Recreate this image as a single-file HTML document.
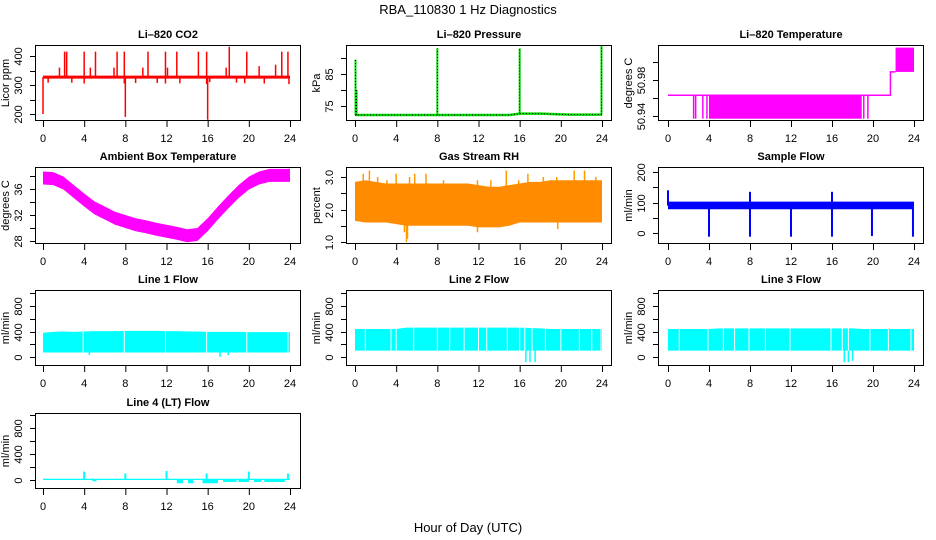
<!DOCTYPE html>
<html><head><meta charset="utf-8"><style>
body{margin:0;background:#fff}
svg{display:block;font-family:"Liberation Sans",Helvetica,sans-serif}
</style></head><body>
<svg id="c" width="936" height="540" viewBox="0 0 936 540">
<defs>
<pattern id="rhpat" width="2" height="2" patternUnits="userSpaceOnUse">
<rect width="2" height="2" fill="#ffff00"/><rect width="1" height="1" fill="#ff0000"/><rect x="1" y="1" width="1" height="1" fill="#ff0000"/>
</pattern>
</defs>
<text x="468" y="14" text-anchor="middle" font-size="13">RBA_110830  1 Hz Diagnostics</text>
<text x="468" y="532" text-anchor="middle" font-size="13">Hour of Day (UTC)</text>
</svg>
<script>
// ---------------- data ----------------
const hourTicks = [0,4,8,12,16,20,24];
const hours = [0,1,2,3,4,5,6,7,8,9,10,11,12,13,14,15,16,17,18,19,20,21,22,23,24];

const co2Base = 327;
const co2SpikeTimes = [1.6,2.1,2.3,4.0,4.6,5.1,6.9,7.2,7.9,9.7,10.2,11.9,12.1,13.0,15.1,15.9,17.8,18.1,19.8,21.0,22.6,23.2,23.8,0.0,8.0,16.0,0.5,2.8,4.0,7.9,9.0,11.1,11.9,13.3,15.9,16.2,18.8,19.6,21.5,23.9];
const co2SpikeVals  = [360,415,415,415,360,415,360,415,415,360,415,415,360,415,415,415,360,432,415,365,370,415,415,200,190,180,308,308,305,305,307,307,305,306,303,310,308,306,305,303];

const presBase = [72.2,72.2,72.2,72.2,72.2,72.2,72.2,72.2,72.2,72.2,72.2,72.2,72.2,72.2,72.2,72.2,72.6,72.6,72.6,72.5,72.4,72.3,72.3,72.3,72.3];
const presSpikeTimes = [0.05,0.15,8.0,16.0,23.95];
const presSpikeVals  = [89.5,80,93,93,94];

const tempStepTimes = [0,21.7,21.7,22.2];
const tempStepVals  = [50.963,50.963,50.989,50.989];
const tempBlockStart = [4.0,22.2];
const tempBlockEnd   = [18.9,24.0];
const tempBlockLo    = [50.937,50.989];
const tempBlockHi    = [50.963,51.016];
const tempDropTimes  = [2.5,2.7,3.4,3.8,19.1,19.5];
const tempDropVal    = 50.937;

const ambMid = [37.7,37.6,36.9,35.6,34.3,33.1,32.3,31.5,31.0,30.5,30.2,29.8,29.5,29.2,28.8,29.0,30.5,32.3,34.0,35.6,36.9,37.7,38.1,38.1,38.1];
const ambHalfWidth = 1.0;

const rhLo = [1.65,1.6,1.6,1.6,1.55,1.5,1.5,1.5,1.5,1.5,1.5,1.5,1.45,1.45,1.45,1.5,1.6,1.6,1.6,1.6,1.6,1.6,1.6,1.6,1.6];
const rhHi = [2.85,2.9,2.85,2.8,2.8,2.8,2.8,2.8,2.8,2.8,2.8,2.8,2.75,2.7,2.7,2.75,2.8,2.85,2.85,2.9,2.9,2.9,2.9,2.9,2.9];
const rhSpikeTimes = [0.8,1.4,2.2,3.1,4.0,5.3,5.8,6.9,8.6,11.9,13.2,14.7,15.9,16.8,18.3,19.6,21.3,22.3,23.4,4.8,5.0,5.1,11.9,19.7];
const rhSpikeVals  = [3.1,3.2,3.0,2.9,3.1,3.0,3.1,3.1,2.9,2.9,2.9,3.2,2.9,3.1,3.0,3.0,3.2,3.2,3.0,1.3,1.0,1.1,1.3,1.4];

const sfLo = 78, sfHi = 103;
const sfSpikeTimes = [0.0,8.0,16.0,4.0,8.0,12.0,16.0,19.9,23.9];
const sfSpikeVals  = [140,135,135,-12,-12,-12,-12,-10,-12];

const l1Lo = 70, l1Hi = [380,395,400,395,400,405,405,405,410,410,410,410,405,405,400,400,395,395,395,395,390,390,390,390,390];
const l1Gaps = [3.9,7.9,11.9,15.9,19.8,23.8];
const l1DipTimes = [4.5,17.2,18.0];
const l1DipVals  = [30,0,30];

const l2Lo = 100, l2Hi = [440,440,440,440,440,460,460,460,460,460,460,460,460,460,460,460,460,455,450,440,440,440,440,440,440];
const l2Gaps = [1.0,3.5,4.0,5.7,8.0,9.2,10.6,12.0,12.8,14.8,16.0,16.5,17.2,18.5,20.0,21.8,23.0,23.9];
const l2DipTimes = [16.6,17.0,17.5];
const l2DipVals  = [-80,-80,-80];

const l3Lo = 100, l3Hi = [440,440,440,440,440,450,450,450,450,450,450,450,450,450,450,450,450,450,450,440,440,440,440,440,440];
const l3Gaps = [1.1,3.9,5.4,6.5,7.9,9.5,11.9,15.9,17.0,17.6,19.7,21.5,23.7];
const l3DipTimes = [17.2,17.6,18.0];
const l3DipVals  = [-80,-80,-60];

const l4Lo = 0, l4Hi = 20;
const l4SpikeTimes = [4.0,8.0,12.0,15.9,20.0,23.8];
const l4SpikeVals  = [130,100,140,100,130,100];
const l4DipStart = [4.8,13.0,14.1,15.5,17.5,19.0,20.5,21.5];
const l4DipEnd   = [5.2,13.6,14.6,17.0,18.8,20.0,21.2,23.5];
const l4DipVals  = [-20,-50,-50,-50,-30,-30,-30,-30];

// ---------------- drawing ----------------
const NS = 'http://www.w3.org/2000/svg';
const svg = document.getElementById('c');
function el(tag, attrs, parent){
  const e = document.createElementNS(NS, tag);
  for (const k in attrs) e.setAttribute(k, attrs[k]);
  (parent||svg).appendChild(e);
  return e;
}
const cols = [{l:35,r:301,x0:43,x24:290},{l:346,r:612,x0:355,x24:602},{l:658,r:924,x0:668,x24:914}];
const rows = [{t:45,b:121},{t:167,b:244},{t:290,b:366},{t:413,b:489}];

function panel(name, title, ylab, ci, ri, v1, y1, v2, y2, ticks, labels){
  const c = cols[ci], r = rows[ri];
  const g = el('g', {});
  
  
  const X = t => c.x0 + t*(c.x24-c.x0)/24;
  const Y = v => y1 + (v-v1)*(y2-y1)/(v2-v1);
  const clipId = 'clip-' + name;
  const cp = el('clipPath', {id: clipId}, g);
  el('rect', {x:c.l, y:r.t, width:c.r-c.l, height:r.b-r.t}, cp);
  const data = el('g', {'clip-path':'url(#'+clipId+')'}, g);
  
  
  const box = el('rect', {x:c.l+0.5, y:r.t+0.5, width:c.r-c.l-1, height:r.b-r.t-1, fill:'none', stroke:'#000', 'stroke-width':1}, g);
  
  
  const tt = el('text', {x:(c.l+c.r)/2, y:r.t-7, 'text-anchor':'middle', 'font-size':11, 'font-weight':'bold'}, g);
  tt.textContent = title;
  
  
  const xa = el('g', {}, g);
  
  
  hourTicks.forEach(h => {
    el('line', {x1:X(h)+0.5, x2:X(h)+0.5, y1:r.b, y2:r.b+6, stroke:'#000'}, xa);
    const lt = el('text', {x:X(h), y:r.b+21, 'text-anchor':'middle', 'font-size':11}, xa);
    lt.textContent = h;
    
    
  });
  const ya = el('g', {}, g);
  
  
  ticks.forEach(v => {
    const yy = Math.round(Y(v))+0.5;
    el('line', {x1:c.l-5, x2:c.l, y1:yy, y2:yy, stroke:'#000'}, ya);
    if (labels.indexOf(v) >= 0) {
      const lt = el('text', {x:0, y:0, 'text-anchor':'middle', 'font-size':11, transform:'translate('+(c.l-13)+','+yy+') rotate(-90)'}, ya);
      lt.textContent = (name==='rh') ? v.toFixed(1) : String(v);
      
      
    }
  });
  const yl = el('text', {x:0, y:0, 'text-anchor':'middle', 'font-size':11, transform:'translate('+(c.l-26)+','+((r.t+r.b)/2)+') rotate(-90)'}, ya);
  yl.textContent = ylab;
  
  
  return {X, Y, g:data};
}
function vline(p, t, a, b, color, w){
  return el('line', {x1:p.X(t), x2:p.X(t), y1:p.Y(a), y2:p.Y(b), stroke:color, 'stroke-width':w||1}, p.g);
}
function band(p, los, his, fill){
  let pts = hours.map((h,i)=>p.X(h)+','+p.Y(his[i]));
  pts = pts.concat(hours.slice().reverse().map((h,j)=>{const i=hours.length-1-j; return p.X(h)+','+p.Y(los[i]);}));
  return el('polygon', {points:pts.join(' '), fill:fill}, p.g);
}
const arr = (v) => hours.map(()=>v);

// CO2
let p = panel('co2','Li\u2013820 CO2','Licor ppm',0,0,400,56,200,114,[200,250,300,350,400],[200,300,400]);
co2SpikeTimes.forEach((t,i)=>{ const s=vline(p,t,co2Base,co2SpikeVals[i],'#ff0000',1.5);   });
el('line',{x1:p.X(0),x2:p.X(24),y1:p.Y(co2Base),y2:p.Y(co2Base),stroke:'#ff0000','stroke-width':3},p.g);

// Pressure
p = panel('pressure','Li\u2013820 Pressure','kPa',1,0,85,74,75,106,[75,80,85,90],[75,85]);
el('polyline',{points:hours.map((h,i)=>p.X(h)+','+p.Y(presBase[i])).join(' '),fill:'none',stroke:'#00dd00','stroke-width':2.5},p.g);
el('polyline',{points:hours.map((h,i)=>p.X(h)+','+p.Y(presBase[i])).join(' '),fill:'none',stroke:'#000','stroke-width':1,'stroke-dasharray':'1,2'},p.g);
presSpikeTimes.forEach((t,i)=>{ vline(p,t,presBase[Math.round(t)],presSpikeVals[i],'#00dd00',2); const s=vline(p,t,presBase[Math.round(t)],presSpikeVals[i],'#000',1); s.setAttribute('stroke-dasharray','1,2');   });

// Li-820 temp
p = panel('li820-temp','Li\u2013820 Temperature','degrees C',2,0,50.98,80,50.94,116,[50.94,50.96,50.98,51.00],[50.94,50.98]);
el('polyline',{points:tempStepTimes.map((t,i)=>p.X(t)+','+p.Y(tempStepVals[i])).join(' '),fill:'none',stroke:'#ff00ff','stroke-width':1.5},p.g);
tempBlockStart.forEach((s,i)=>{ const r=el('rect',{x:p.X(s),y:p.Y(tempBlockHi[i]),width:p.X(tempBlockEnd[i])-p.X(s),height:p.Y(tempBlockLo[i])-p.Y(tempBlockHi[i]),fill:'#ff00ff'},p.g);   });
tempDropTimes.forEach(t=>vline(p,t,tempStepVals[0],tempDropVal,'#ff00ff',1.5));

// Ambient
p = panel('ambient','Ambient Box Temperature','degrees C',0,1,36,189,28,241,[28,30,32,34,36,38],[28,32,36]);
band(p, ambMid.map(v=>v-ambHalfWidth), ambMid.map(v=>v+ambHalfWidth), '#ff00ff');

// RH
p = panel('rh','Gas Stream RH','percent',1,1,3.0,177,1.0,242,[1.0,1.5,2.0,2.5,3.0],[1.0,2.0,3.0]);
rhSpikeTimes.forEach((t,i)=>vline(p,t,2.2,rhSpikeVals[i],'#ff9900',1.5));
band(p, rhLo, rhHi, '#ff8c00');

// Sample flow
p = panel('sample-flow','Sample Flow','ml/min',2,1,200,172,0,233,[0,50,100,150,200],[0,100,200]);
band(p, arr(sfLo), arr(sfHi), '#0000ff');
sfSpikeTimes.forEach((t,i)=>vline(p,t,90,sfSpikeVals[i],'#0000ff',2));

// Line flows
function flow(name,title,ci,ri,y0,y800,lo,his,gaps,dipT,dipV){
  const q = panel(name,title,'ml/min',ci,ri,0,y0,800,y800,[0,200,400,600,800,1000],[0,400,800]);
  band(q, arr(lo), his, '#00ffff');
  gaps.forEach(t=>vline(q,t,lo-5,1000,'#ffffff',1));
  dipT.forEach((t,i)=>vline(q,t,lo,dipV[i],'#00ffff',1.5));
  return q;
}
flow('line1-flow','Line 1 Flow',0,2,357,306,l1Lo,l1Hi,l1Gaps,l1DipTimes,l1DipVals);
flow('line2-flow','Line 2 Flow',1,2,357,306,l2Lo,l2Hi,l2Gaps,l2DipTimes,l2DipVals);
flow('line3-flow','Line 3 Flow',2,2,357,306,l3Lo,l3Hi,l3Gaps,l3DipTimes,l3DipVals);

// Line 4
p = panel('line4-flow','Line 4 (LT) Flow','ml/min',0,3,0,480,800,428,[0,200,400,600,800,1000],[0,400,800]);
band(p, arr(l4Lo), arr(l4Hi), '#00ffff');
l4SpikeTimes.forEach((t,i)=>vline(p,t,0,l4SpikeVals[i],'#00ffff',2));
l4DipStart.forEach((s,i)=>{ el('rect',{x:p.X(s),y:p.Y(0),width:p.X(l4DipEnd[i])-p.X(s),height:p.Y(l4DipVals[i])-p.Y(0),fill:'#00ffff'},p.g); });
</script>
</body></html>
